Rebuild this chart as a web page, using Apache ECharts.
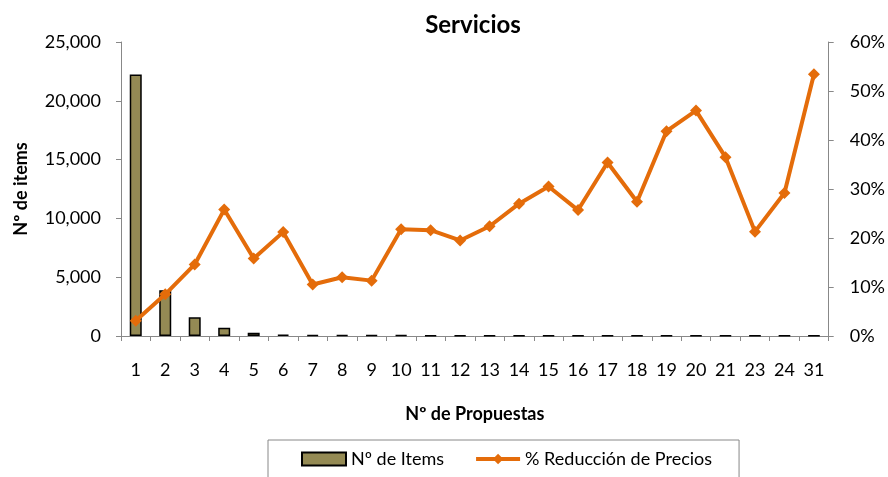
<!DOCTYPE html>
<html><head><meta charset="utf-8">
<script src="https://cdn.jsdelivr.net/npm/echarts@6/dist/echarts.min.js"></script>
<style>html,body{margin:0;padding:0;background:#fff}#c{width:888px;height:477px}</style>
</head><body><div id="c"></div>
<script>
var categories = ['1','2','3','4','5','6','7','8','9','10','11','12','13','14','15','16','17','18','19','20','21','23','24','31'];
var items = [22230, 3900, 1590, 700, 280, 110, 90, 80, 70, 70, 60, 60, 50, 50, 50, 40, 40, 40, 40, 40, 40, 30, 30, 30];
var reduccion = [0.031, 0.085, 0.146, 0.258, 0.158, 0.212, 0.105, 0.120, 0.113, 0.218, 0.216, 0.195, 0.224, 0.270, 0.305, 0.257, 0.354, 0.274, 0.418, 0.460, 0.365, 0.213, 0.292, 0.534];
var leftTicks = [0, 5000, 10000, 15000, 20000, 25000];
var rightTicks = [0, 0.1, 0.2, 0.3, 0.4, 0.5, 0.6];

var FONT = 'Lato';
var chart = echarts.init(document.getElementById('c'), null, {renderer: 'canvas'});
chart.setOption({
  animation: false,
  textStyle: {fontFamily: FONT},
  title: {
    text: 'Servicios', left: 468, top: 8, textAlign: 'center',
    textStyle: {fontFamily: FONT, fontSize: 24, fontWeight: 'bold', color: '#000'}
  },
  grid: {left: 121, right: 58, top: 42, bottom: 141},
  legend: {
    left: 268, top: 440,
    itemWidth: 44, itemHeight: 13, itemGap: 30,
    padding: [10, 27, 22, 33],
    borderColor: '#888', borderWidth: 1,
    textStyle: {fontFamily: FONT, fontSize: 18, color: '#000'},
    data: [
      {name: 'Nº de Items', icon: 'rect', textStyle: {fontFamily: FONT, fontSize: 18, color: '#000'}},
      {name: '% Reducción de Precios', textStyle: {fontFamily: FONT, fontSize: 18, color: '#000'},
       lineStyle: {width: 4, color: '#E46C0A'}}
    ]
  },
  xAxis: {
    type: 'category', data: categories,
    name: 'Nº de Propuestas', nameLocation: 'middle', nameGap: 69,
    nameTextStyle: {fontFamily: FONT, fontSize: 18, fontWeight: 'bold', color: '#000'},
    axisLine: {lineStyle: {color: '#888', width: 1}},
    axisTick: {show: true, length: 5, alignWithLabel: false, lineStyle: {color: '#888'}},
    axisLabel: {fontFamily: FONT, fontSize: 18, color: '#000', margin: 25, interval: 0}
  },
  yAxis: [{
    type: 'value', min: 0, max: 25000, interval: 5000,
    name: 'Nº de items', nameLocation: 'middle', nameGap: 91, nameRotate: 90,
    nameTextStyle: {fontFamily: FONT, fontSize: 18, fontWeight: 'bold', color: '#000'},
    axisLine: {show: true, lineStyle: {color: '#888'}},
    axisTick: {show: true, length: 5, lineStyle: {color: '#888'}},
    splitLine: {show: false},
    axisLabel: {fontFamily: FONT, fontSize: 18, color: '#000', margin: 20,
      formatter: function(v){ return leftTicks.indexOf(v) >= 0 ? v.toLocaleString('en-US') : ''; }}
  }, {
    type: 'value', min: 0, max: 0.6, interval: 0.1,
    axisLine: {show: true, lineStyle: {color: '#888'}},
    axisTick: {show: true, length: 5, inside: false, lineStyle: {color: '#888'}},
    splitLine: {show: false},
    axisLabel: {fontFamily: FONT, fontSize: 18, color: '#000', margin: 21,
      formatter: function(v){ return Math.round(v*100) + '%'; }}
  }],
  series: [{
    name: 'Nº de Items', type: 'bar', data: items, barWidth: 12,
    itemStyle: {color: '#948A54', borderColor: '#000', borderWidth: 1.5}
  }, {
    name: '% Reducción de Precios', type: 'line', yAxisIndex: 1, data: reduccion,
    symbol: 'diamond', symbolSize: 12,
    lineStyle: {color: '#E46C0A', width: 4},
    itemStyle: {color: '#E46C0A'}
  }]
});
</script></body></html>
